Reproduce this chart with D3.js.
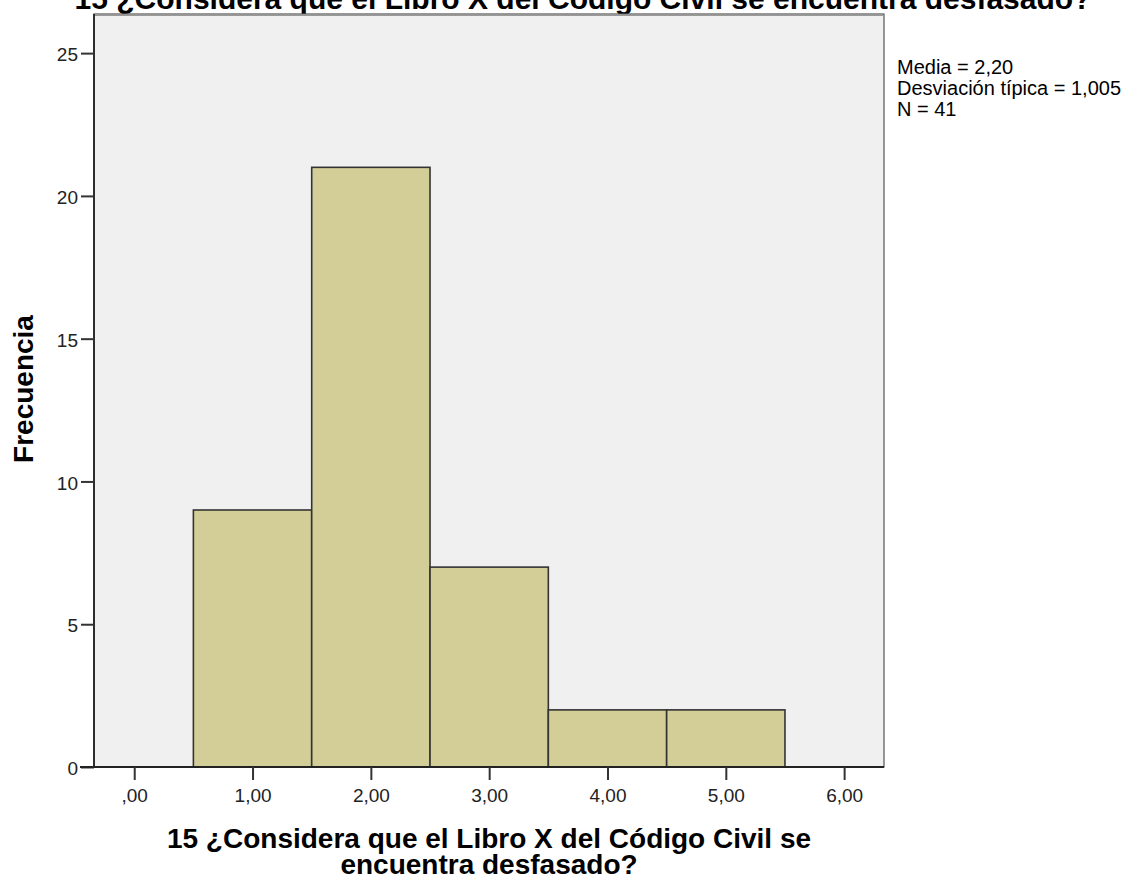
<!DOCTYPE html>
<html>
<head>
<meta charset="utf-8">
<script src="https://cdn.jsdelivr.net/npm/d3@7"></script>
<style>
  html, body { margin: 0; padding: 0; background: #fff; }
  svg { display: block; font-family: "Liberation Sans", Arial, sans-serif; }
</style>
</head>
<body>
<svg id="chart" width="1132" height="881"></svg>
<script>
// Data
const binStarts = [0.5, 1.5, 2.5, 3.5, 4.5];
const binEnds   = [1.5, 2.5, 3.5, 4.5, 5.5];
const frequencies = [9, 21, 7, 2, 2];
const xTickValues = [0, 1, 2, 3, 4, 5, 6];
const xTickLabels = [",00", "1,00", "2,00", "3,00", "4,00", "5,00", "6,00"];
const yTickValues = [0, 5, 10, 15, 20, 25];
const statsLines = ["Media = 2,20", "Desviación típica = 1,005", "N = 41"];
const titleText = "15 ¿Considera que el Libro X del Código Civil se encuentra desfasado?";
const xTitleLines = ["15 ¿Considera que el Libro X del Código Civil se", "encuentra desfasado?"];
const yTitleText = "Frecuencia";

const svg = d3.select("#chart");
const L = 94, R = 884, T = 14, B = 767;
const FONT = "'Liberation Sans', Arial, sans-serif";

const x = d3.scaleLinear().domain([-0.34, 6.337]).range([L, R]);
const y = d3.scaleLinear().domain([0, 26.37]).range([B, T]);

// Title (partially cut at top)
svg.append("text")
  .attr("x", 583).attr("y", 9)
  .attr("text-anchor", "middle")
  .attr("font-size", 30).attr("font-weight", "bold")
  .attr("fill", "#000")
  .text(titleText);

// plot background
svg.append("rect")
  .attr("x", L).attr("y", T).attr("width", R - L).attr("height", B - T)
  .attr("fill", "#f0f0f0");

// bars
const bars = binStarts.map((s, i) => ({ s, e: binEnds[i], f: frequencies[i] }));
svg.append("g").selectAll("rect").data(bars).join("rect")
  .attr("x", d => x(d.s))
  .attr("y", d => y(d.f))
  .attr("width", d => x(d.e) - x(d.s))
  .attr("height", d => y(0) - y(d.f))
  .attr("fill", "#d3ce98")
  .attr("stroke", "#333")
  .attr("stroke-width", 1.6);

// frame
svg.append("rect")
  .attr("x", L).attr("y", T).attr("width", R - L).attr("height", B - T)
  .attr("fill", "none").attr("stroke", "#555").attr("stroke-width", 1.2);
svg.append("line").attr("x1", L).attr("x2", R).attr("y1", T + 1.5).attr("y2", T + 1.5)
  .attr("stroke", "#999").attr("stroke-width", 1);

// axes
const yAxis = d3.axisLeft(y).tickValues(yTickValues).tickSize(13).tickPadding(3).tickFormat(d3.format("d"));
const gy = svg.append("g").attr("transform", `translate(${L},0)`).call(yAxis);
gy.select(".domain").attr("stroke", "#222").attr("stroke-width", 1.8).attr("d", `M0,${T}V${B}`);
gy.selectAll(".tick line").attr("stroke", "#333").attr("stroke-width", 2);
gy.selectAll(".tick text").attr("font-size", 19).attr("fill", "#222")
  .attr("font-family", FONT).attr("dy", "0.40em");

const xAxis = d3.axisBottom(x).tickValues(xTickValues).tickSize(13).tickPadding(9)
  .tickFormat((d, i) => xTickLabels[i]);
const gx = svg.append("g").attr("transform", `translate(0,${B})`).call(xAxis);
gx.select(".domain").attr("stroke", "#222").attr("stroke-width", 1.8).attr("d", `M${L - 14},0H${R}`);
gx.selectAll(".tick line").attr("stroke", "#333").attr("stroke-width", 2);
gx.selectAll(".tick text").attr("font-size", 19).attr("fill", "#222")
  .attr("font-family", FONT);

// axis titles
const xt = svg.append("text")
  .attr("text-anchor", "middle").attr("font-size", 28).attr("font-weight", "bold").attr("fill", "#000");
xTitleLines.forEach((line, i) => {
  xt.append("tspan").attr("x", (L + R) / 2).attr("y", 848 + i * 26).text(line);
});

svg.append("text")
  .attr("transform", `translate(33,389) rotate(-90)`)
  .attr("text-anchor", "middle").attr("font-size", 28).attr("font-weight", "bold").attr("fill", "#000")
  .text(yTitleText);

// stats
const st = svg.append("text").attr("font-size", 20).attr("fill", "#000");
statsLines.forEach((line, i) => {
  st.append("tspan").attr("x", 897).attr("y", 74 + i * 21).text(line);
});
</script>
</body>
</html>
